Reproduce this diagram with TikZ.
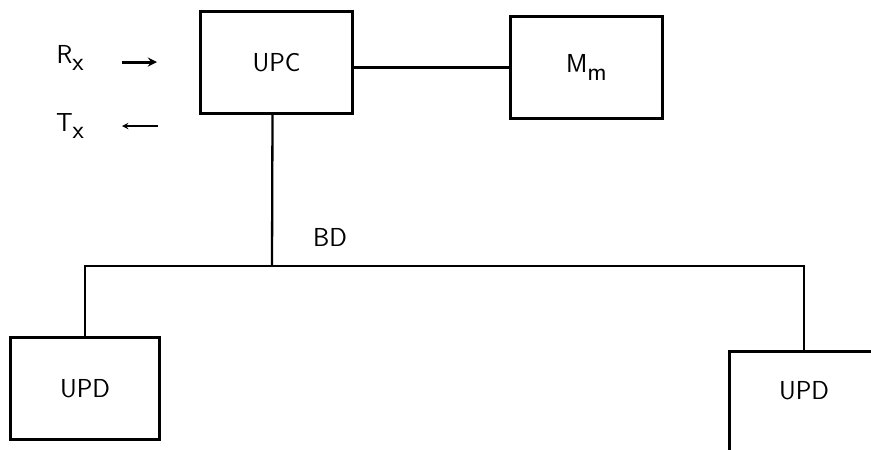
\documentclass[tikz,border=0pt]{standalone}
\usepackage{tikz}
\usetikzlibrary{positioning,calc}
\tikzset{  unit/.style={draw,line width=3pt,minimum width=152pt,minimum height=102pt,inner sep=0pt},
  lbl/.style={font=\fontsize{26}{30}\selectfont\sffamily,inner sep=0pt} }
\newcommand{\lowsub}[1]{\raisebox{-0.7ex}{#1}}

\begin{document}
\begin{tikzpicture}[x=1pt,y=-1pt,line width=2.3pt,>=stealth]
   \useasboundingbox (0,0) rectangle (871,450);
   \clip (0,0) rectangle (871,450);
   \node[unit] (upc) at (276.5,62.5) {};
   \node[lbl] at (upc) {UPC};
   \node[unit,right=155pt of upc,yshift=-5pt] (mem) {};
   \node[lbl] at (mem) {M\lowsub{m}};
   \node[lbl] (rx) at (70,58) {R\lowsub{x}};
   \node[lbl] (tx) at (70,126) {T\lowsub{x}};
   \coordinate (rxa) at (122,62);
   \coordinate (rxb) at (157,62);
   \coordinate (txa) at (158,126);
   \coordinate (txb) at (122,126);
   \coordinate (bd) at (272,266);
   \node[lbl] (bus) at (330,237) {BD};
   \node[unit,minimum width=149pt] (updl) at (85,388.5) {};
   \node[lbl] at (updl) {UPD};
   \node[unit,minimum width=150pt] (updr) at (804,402.5) {};
   \node[lbl] at ([yshift=12pt]updr) {UPD};
   \draw[->,line width=3pt] (rxa) -- (rxb);
   \draw[->,line width=1.8pt] (txa) -- (txb);
   \draw (mem.west) -- (mem.west -| upc.east);
   \draw ([xshift=-4pt]upc.south) -- (bd);
   \draw (updl.north) |- (bd) -| (updr.north);
  \end{tikzpicture}
\end{document}
